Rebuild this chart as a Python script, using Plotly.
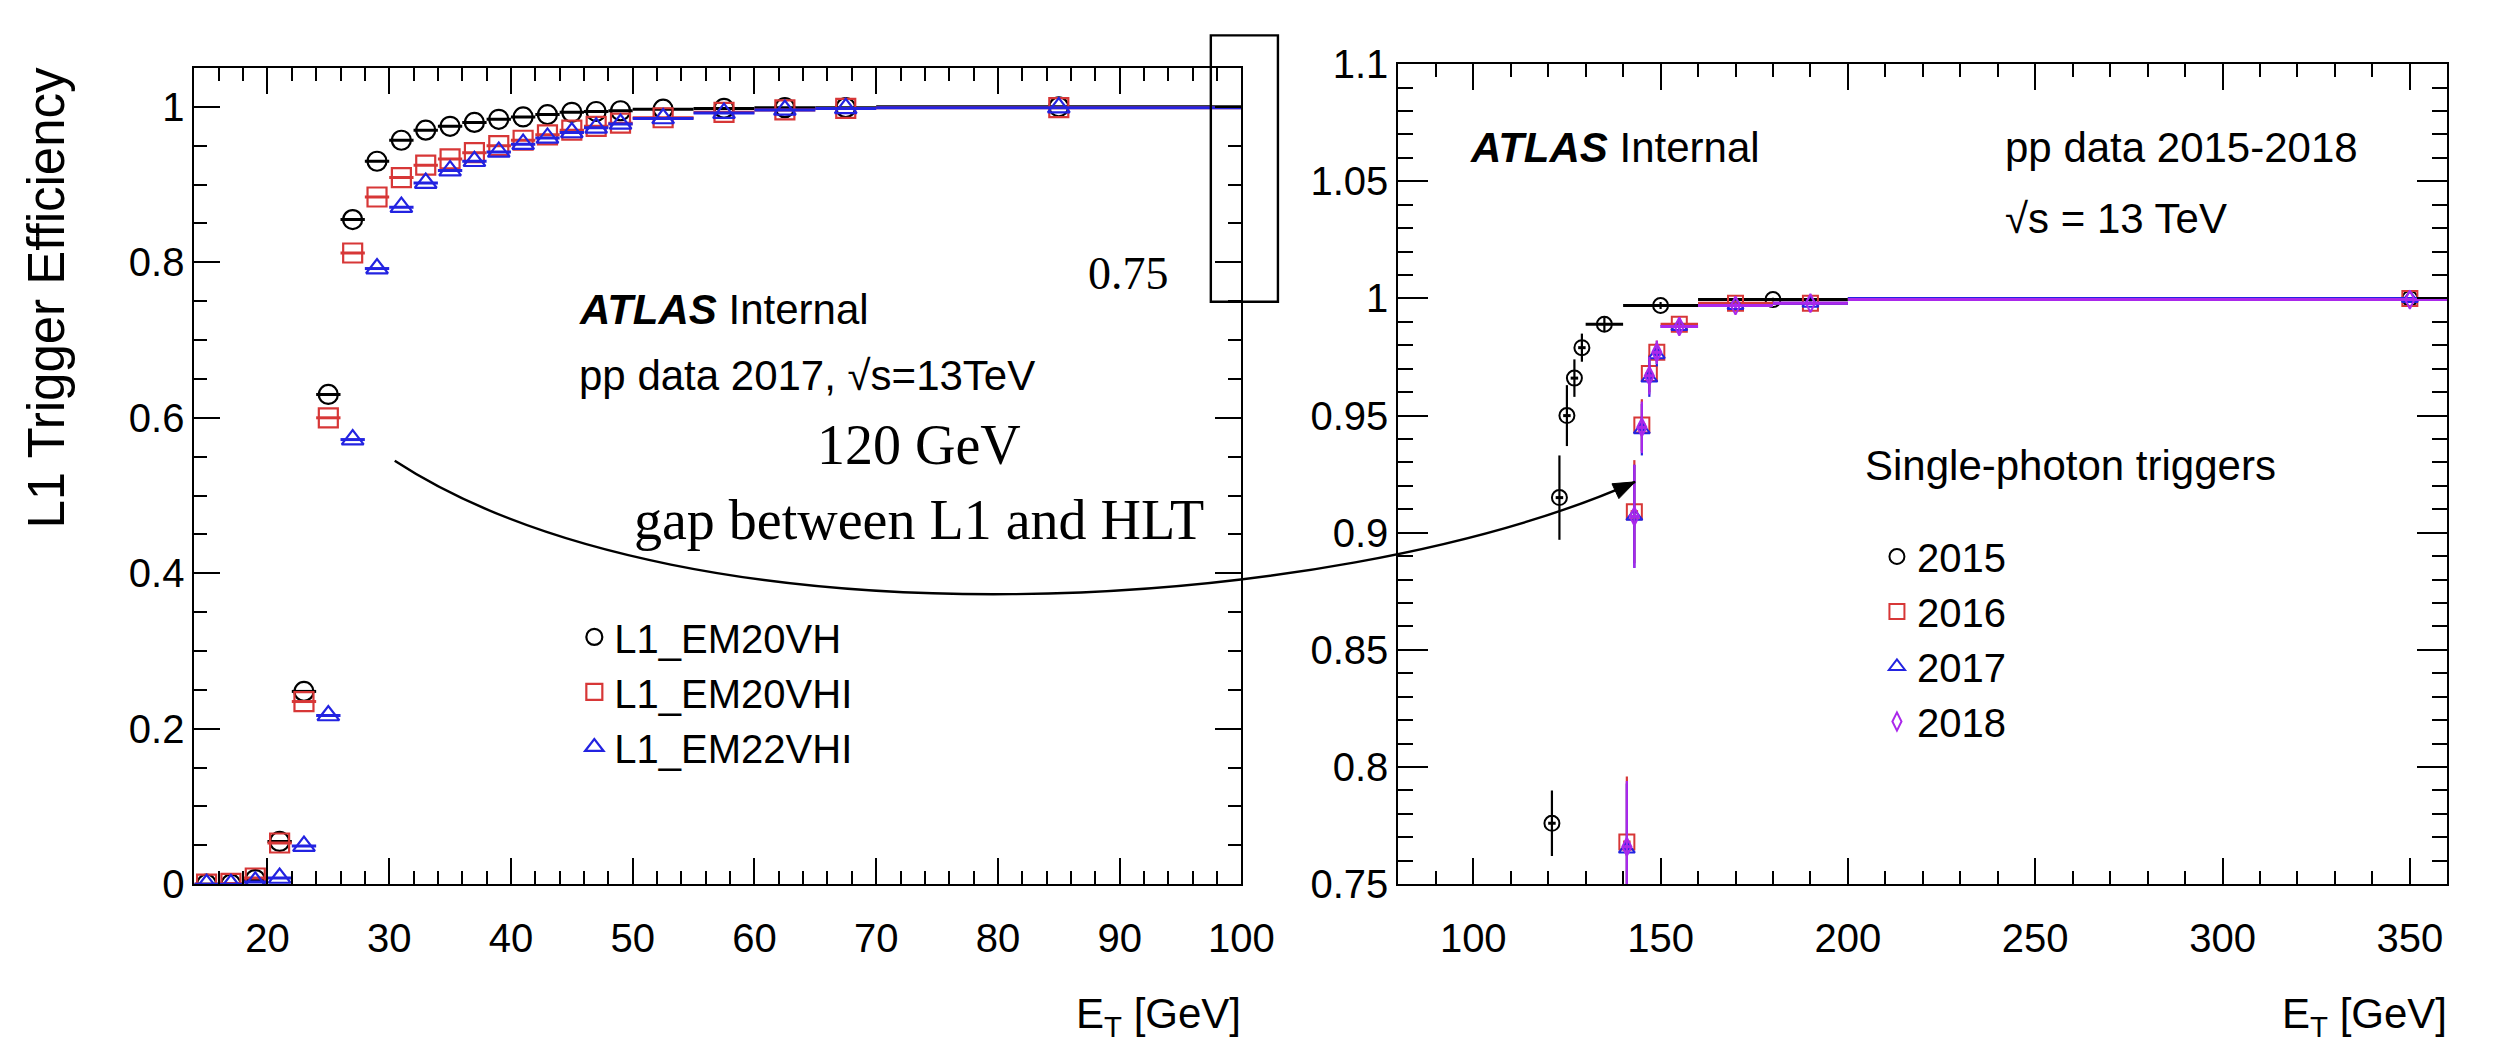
import plotly.graph_objects as go

W, H = 2504, 1048

# ---------------- data: left panel (L1 trigger efficiency, 2017) ----------------
left_et = [15, 17, 19, 21, 23, 25, 27, 29, 31, 33, 35, 37, 39, 41, 43, 45, 47, 49,
           52.5, 57.5, 62.5, 67.5, 85]
left_et_err = [1] * 18 + [2.5, 2.5, 2.5, 2.5, 15]
eff_em20vh = [0.0, 0.0, 0.006, 0.055, 0.248, 0.630, 0.855, 0.930, 0.957, 0.970, 0.975,
              0.980, 0.984, 0.987, 0.990, 0.993, 0.994, 0.995, 0.997, 0.998, 0.999, 0.999, 1.0]
eff_em20vhi = [0.0, 0.001, 0.008, 0.053, 0.235, 0.600, 0.812, 0.884, 0.909, 0.925, 0.933,
               0.941, 0.950, 0.957, 0.964, 0.970, 0.975, 0.979, 0.986, 0.993, 0.996, 0.998, 0.999]
eff_em22vhi = [0.0, 0.0, 0.003, 0.008, 0.049, 0.217, 0.572, 0.792, 0.871, 0.902, 0.918,
               0.930, 0.942, 0.952, 0.960, 0.967, 0.973, 0.978, 0.985, 0.992, 0.996, 0.998, 0.999]
left_names = ["L1_EM20VH", "L1_EM20VHI", "L1_EM22VHI"]

# ---------------- data: right panel (single-photon triggers 2015-2018) ----------------
et_2015 = [121, 123, 125, 127, 129, 135, 150, 180, 350]
et_2015_err = [1, 1, 1, 1, 1, 5, 10, 20, 150]
eff_2015 = [0.776, 0.915, 0.950, 0.966, 0.979, 0.989, 0.997, 0.9995, 1.0]
eff_2015_err = [0.014, 0.018, 0.013, 0.008, 0.006, 0.003, 0.0015, 0.0008, 0.0003]

et_1618 = [141, 143, 145, 147, 149, 155, 170, 190, 350]
et_1618_err = [1, 1, 1, 1, 1, 5, 10, 10, 150]
eff_2016 = [0.768, 0.909, 0.946, 0.968, 0.977, 0.989, 0.998, 0.998, 1.0]
eff_2017 = [0.765, 0.907, 0.944, 0.966, 0.976, 0.988, 0.997, 0.998, 1.0]
eff_2018 = [0.766, 0.907, 0.945, 0.967, 0.977, 0.988, 0.997, 0.998, 0.9995]
eff_1618_err = [0.028, 0.022, 0.011, 0.008, 0.005, 0.003, 0.0012, 0.0008, 0.0003]
right_names = ["2015", "2016", "2017", "2018"]

# ---------------- styles ----------------
SANS = "Liberation Sans, Arial, Helvetica, sans-serif"
SERIF = "Liberation Serif, Times New Roman, serif"
BLACK = "rgb(0,0,0)"
RED = "rgb(215,55,55)"
BLUE = "rgb(35,35,225)"
VIOLET = "rgb(170,40,235)"


def px(x, y):
    """pixel position on the page -> paper coordinates"""
    return x / W, 1 - y / H


fig = go.Figure()

left_series = [
    (eff_em20vh, left_names[0], "circle-open", BLACK),
    (eff_em20vhi, left_names[1], "square-open", RED),
    (eff_em22vhi, left_names[2], "triangle-up-open", BLUE),
]
for vals, name, sym, col in left_series:
    fig.add_trace(go.Scatter(
        x=left_et, y=vals, mode="markers", name=name,
        xaxis="x", yaxis="y", legend="legend",
        marker=dict(symbol=sym, size=19, color=col, line=dict(width=2.2, color=col)),
        error_x=dict(type="data", array=left_et_err, visible=True, width=0,
                     thickness=3, color=col),
    ))

right_series = [
    (et_2015, et_2015_err, eff_2015, eff_2015_err, right_names[0], "circle-open", BLACK, 15),
    (et_1618, et_1618_err, eff_2016, eff_1618_err, right_names[1], "square-open", RED, 15),
    (et_1618, et_1618_err, eff_2017, eff_1618_err, right_names[2], "triangle-up-open", BLUE, 14),
    (et_1618, et_1618_err, eff_2018, eff_1618_err, right_names[3], "diamond-tall-open", VIOLET, 13),
]
for xs, xe, ys, ye, name, sym, col, sz in right_series:
    fig.add_trace(go.Scatter(
        x=xs, y=ys, mode="markers", name=name,
        xaxis="x2", yaxis="y2", legend="legend2",
        marker=dict(symbol=sym, size=sz, color=col, line=dict(width=2, color=col)),
        error_x=dict(type="data", array=xe, visible=True, width=0, thickness=3, color=col),
        error_y=dict(type="data", array=ye, visible=True, width=0, thickness=2.2, color=col),
    ))

# ---------------- axes ----------------
tickfont = dict(family=SANS, size=40, color="black")
common = dict(showline=True, linecolor="black", linewidth=2, mirror="allticks",
              ticks="inside", tickcolor="black", tickwidth=2, showgrid=False,
              zeroline=False, tickfont=tickfont)

fig.update_layout(
    xaxis=dict(domain=[197 / W, 1258 / W], range=[14, 100], dtick=10, ticklen=26,
               ticklabelstandoff=18,
               minor=dict(dtick=2, ticklen=13, tickwidth=2, tickcolor="black", ticks="inside"),
               anchor="y", **common),
    yaxis=dict(domain=[1 - 900 / H, 1 - 48 / H], range=[0, 1.05], dtick=0.2, ticklen=26,
               minor=dict(dtick=0.05, ticklen=13, tickwidth=2, tickcolor="black", ticks="inside"),
               anchor="x", **common),
    xaxis2=dict(domain=[1417 / W, 2480 / W], range=[80, 360], dtick=50, ticklen=26,
                ticklabelstandoff=18,
                minor=dict(dtick=10, ticklen=13, tickwidth=2, tickcolor="black", ticks="inside"),
                anchor="y2", **common),
    yaxis2=dict(domain=[1 - 900 / H, 1 - 44 / H], range=[0.75, 1.1], dtick=0.05, ticklen=30,
                minor=dict(dtick=0.01, ticklen=15, tickwidth=2, tickcolor="black", ticks="inside"),
                anchor="x2", **common),
)

# ---------------- legends ----------------
lx, ly = px(582, 608)
rx, ry = px(1902, 524)
fig.update_layout(
    legend=dict(x=lx, y=ly, xanchor="left", yanchor="top", bgcolor="rgba(0,0,0,0)",
                font=dict(family=SANS, size=40, color="black"), itemwidth=30,
                tracegroupgap=0),
    legend2=dict(x=rx, y=ry, xanchor="left", yanchor="top", bgcolor="rgba(0,0,0,0)",
                 font=dict(family=SANS, size=40, color="black"), itemwidth=30,
                 tracegroupgap=0),
)

# ---------------- text annotations ----------------
ann = []


def text(x, y, s, size=41, family=SANS, xanchor="left", yanchor="middle", angle=0):
    ax_, ay_ = px(x, y)
    ann.append(dict(x=ax_, y=ay_, xref="paper", yref="paper", text=s, showarrow=False,
                    xanchor=xanchor, yanchor=yanchor, textangle=angle,
                    font=dict(family=family, size=size, color="black")))


text(47, 44, "L1 Trigger Efficiency", size=51, xanchor="center", yanchor="top", angle=-90)
text(1260, 1038, "E<sub>T</sub> [GeV]", size=42, xanchor="right")
text(2482, 1038, "E<sub>T</sub> [GeV]", size=42, xanchor="right")

text(585, 300, "<b><i>ATLAS</i></b> Internal", size=42)
text(585, 369, "pp data 2017, √s=13TeV", size=42)
text(1488, 131, "<b><i>ATLAS</i></b> Internal", size=42)
text(2030, 131, "pp data 2015-2018", size=42)
text(2030, 205, "√s = 13 TeV", size=42)
text(1888, 463, "Single-photon triggers", size=42)

text(1144, 262, "0.75", size=46, family=SERIF, xanchor="center")
text(931, 442, "120 GeV", size=56, family=SERIF, xanchor="center")
text(931, 520, "gap between L1 and HLT", size=56, family=SERIF, xanchor="center")
fig.update_layout(annotations=ann)

# ---------------- shapes: hand-drawn curve with arrow head, and box ----------------
p0, p1, p2, p3 = px(400, 458), px(700, 660), px(1350, 620), px(1657, 480)
curve = f"M {p0[0]},{p0[1]} C {p1[0]},{p1[1]} {p2[0]},{p2[1]} {p3[0]},{p3[1]}"
t0, t1, t2 = px(1657, 480), px(1633.5, 482.0), px(1640.5, 497.5)
head = f"M {t0[0]},{t0[1]} L {t1[0]},{t1[1]} L {t2[0]},{t2[1]} Z"
b0, b1 = px(1227, 14), px(1295, 292)
fig.update_layout(shapes=[
    dict(type="path", path=curve, xref="paper", yref="paper",
         line=dict(color="black", width=2.4)),
    dict(type="path", path=head, xref="paper", yref="paper",
         line=dict(color="black", width=1), fillcolor="black"),
    dict(type="rect", x0=b0[0], y0=b1[1], x1=b1[0], y1=b0[1], xref="paper", yref="paper",
         line=dict(color="black", width=2.4), fillcolor="rgba(0,0,0,0)"),
])

fig.update_layout(width=W, height=H, autosize=False,
                  margin=dict(l=0, r=0, t=0, b=0, pad=0),
                  paper_bgcolor="white", plot_bgcolor="white",
                  showlegend=True)

fig.write_html("out.html")
